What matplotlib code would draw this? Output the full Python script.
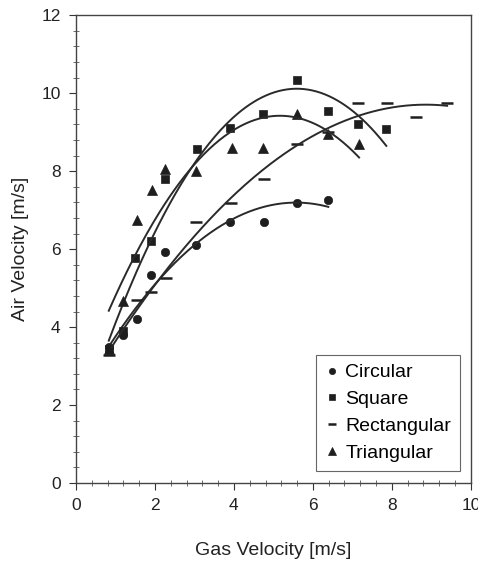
import matplotlib
matplotlib.use("Agg")
import matplotlib.pyplot as plt
import numpy as np
from matplotlib.ticker import MultipleLocator

plt.rcParams["font.family"] = ["Liberation Sans", "DejaVu Sans"]

# values
circ_x = [0.83, 1.2, 1.54, 1.9, 2.26, 3.05, 3.9, 4.76, 5.59, 6.39]
circ_y = [3.5, 3.8, 4.2, 5.33, 5.93, 6.1, 6.69, 6.69, 7.18, 7.27]

sq_x = [0.83, 1.2, 1.5, 1.9, 2.26, 3.07, 3.9, 4.74, 5.59, 6.39, 7.15, 7.86]
sq_y = [3.45, 3.9, 5.76, 6.21, 7.8, 8.58, 9.1, 9.46, 10.33, 9.55, 9.2, 9.08]

rect_x = [0.84, 1.54, 1.9, 2.28, 3.05, 3.92, 4.76, 5.59, 6.39, 7.15, 7.88, 8.61, 9.4]
rect_y = [3.28, 4.69, 4.9, 5.27, 6.7, 7.19, 7.8, 8.7, 9.0, 9.75, 9.75, 9.38, 9.75]

tri_x = [0.83, 1.2, 1.54, 1.92, 2.25, 3.05, 3.94, 4.74, 5.59, 6.39, 7.17]
tri_y = [3.45, 4.66, 6.75, 7.51, 8.05, 8.0, 8.6, 8.6, 9.46, 8.95, 8.7]

series = [
    ("Circular", circ_x, circ_y, "o", 6),
    ("Square", sq_x, sq_y, "s", 6),
    ("Rectangular", rect_x, rect_y, "_", 8),
    ("Triangular", tri_x, tri_y, "^", 7),
]

ink = "#1e1e1e"

fig = plt.figure(figsize=(4.78, 5.63), dpi=100)
ax = fig.add_axes([0.159, 0.142, 0.826, 0.831])

for name, xs, ys, mk, ms in series:
    ax.plot(xs, ys, linestyle="none", marker=mk, markersize=ms, color=ink,
            markeredgewidth=1.8 if mk == "_" else 0.5, label=name)
    # second order trendline, like the spreadsheet
    coef = np.polyfit(xs, ys, 2)
    xx = np.linspace(min(xs), max(xs), 200)
    ax.plot(xx, np.polyval(coef, xx), color="#2a2a2a", linewidth=1.4)

ax.set_xlim(0, 10)
ax.set_ylim(0, 12)
ax.xaxis.set_major_locator(MultipleLocator(2))
ax.xaxis.set_minor_locator(MultipleLocator(0.4))
ax.yaxis.set_major_locator(MultipleLocator(2))
ax.yaxis.set_minor_locator(MultipleLocator(0.4))
ax.tick_params(which="major", direction="out", length=5, width=0.8,
               labelsize=12.5, colors="#333333", labelcolor="#222222", pad=6)
ax.tick_params(which="minor", direction="inout", length=4, width=0.6,
               colors="#555555")
for sp in ax.spines.values():
    sp.set_color("#444444")
    sp.set_linewidth(1.0)

ax.set_xlabel("Gas Velocity [m/s]", fontsize=14, color="#222222", labelpad=21)
ax.set_ylabel("Air Velocity [m/s]", fontsize=14, color="#222222", labelpad=9)

leg = ax.legend(loc="lower left", bbox_to_anchor=(0.608, 0.026),
                borderaxespad=0, fontsize=14, handlelength=0.7,
                handletextpad=0.35, labelspacing=0.48, fancybox=False,
                markerscale=0.75, edgecolor="#666666", framealpha=1,
                borderpad=0.45)
leg.get_frame().set_linewidth(0.8)

fig.savefig("out.png", dpi=100)
